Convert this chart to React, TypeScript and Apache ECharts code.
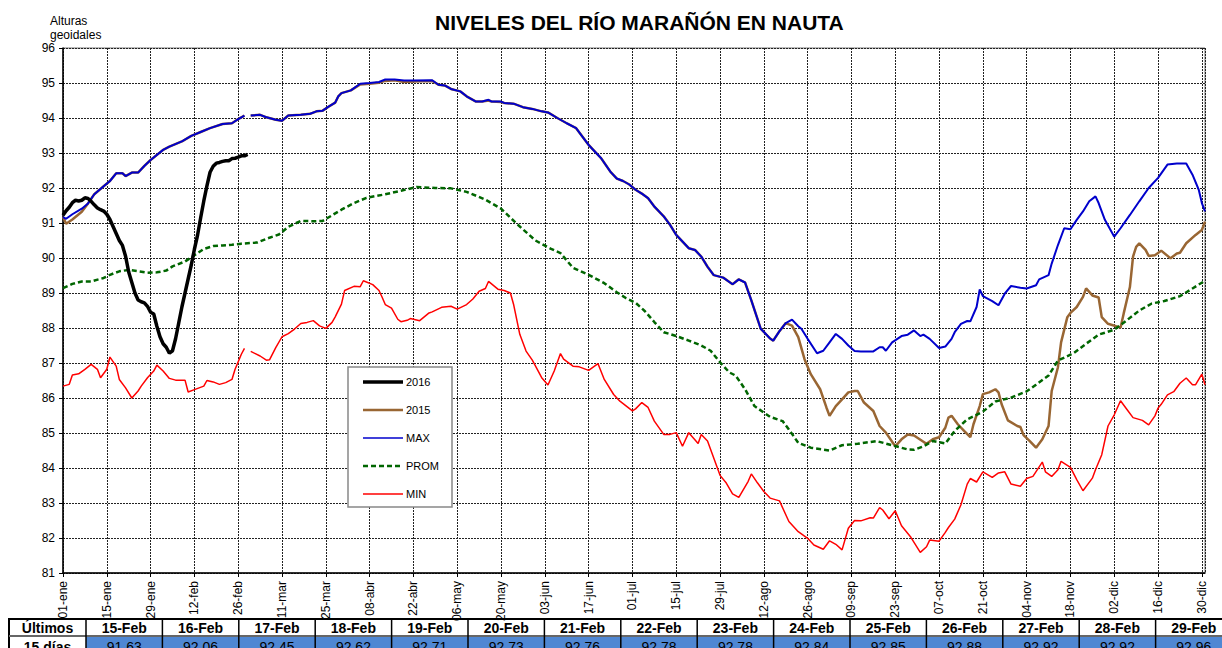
import React, { useEffect, useRef } from "react";
import * as echarts from "echarts";

const FONT = "'Liberation Sans', Arial, sans-serif";

const xTickLabels = [
  "01-ene", "15-ene", "29-ene", "12-feb", "26-feb", "11-mar", "25-mar", "08-abr", "22-abr",
  "06-may", "20-may", "03-jun", "17-jun", "01-jul", "15-jul", "29-jul", "12-ago", "26-ago",
  "09-sep", "23-sep", "07-oct", "21-oct", "04-nov", "18-nov", "02-dic", "16-dic", "30-dic",
];

// [day of year (0 = 01-ene), level]
const data2016Early: [number, number][] = [
  [0, 91.22], [1, 91.35], [2, 91.45], [3, 91.58], [4, 91.65], [5, 91.63], [6, 91.65], [7, 91.72],
  [8, 91.7], [9, 91.62], [10, 91.52], [11, 91.43], [12, 91.38], [13, 91.34], [14, 91.25], [15, 91.1],
  [16, 90.9], [17, 90.7], [18, 90.5], [19, 90.36], [20, 90.05], [21, 89.6], [22, 89.3], [23, 89.0],
  [24, 88.8], [25, 88.75], [26, 88.72], [27, 88.62], [28, 88.45], [29, 88.4], [30, 88.05], [31, 87.75],
  [32, 87.55], [33, 87.45], [34, 87.28], [35, 87.35], [36, 87.7], [37, 88.15], [38, 88.6], [39, 89.0],
  [40, 89.4], [41, 89.8], [42, 90.25], [43, 90.65], [44, 91.15],
];

// last 15 days (table)
const tableDays = [45, 46, 47, 48, 49, 50, 51, 52, 53, 54, 55, 56, 57, 58, 59];
const tableDates = [
  "15-Feb", "16-Feb", "17-Feb", "18-Feb", "19-Feb", "20-Feb", "21-Feb", "22-Feb",
  "23-Feb", "24-Feb", "25-Feb", "26-Feb", "27-Feb", "28-Feb", "29-Feb",
];
const tableValues = [
  91.63, 92.06, 92.45, 92.62, 92.71, 92.73, 92.76, 92.78, 92.78, 92.84, 92.85, 92.88, 92.92, 92.92, 92.96,
];

const dataMax: [number, number | null][] = [
  [0, 91.17], [1, 91.12], [3, 91.25], [6, 91.41], [8, 91.56], [10, 91.82], [13, 92.05], [15, 92.2],
  [17, 92.42], [19, 92.42], [20, 92.34], [22, 92.44], [24, 92.44], [26, 92.63], [28, 92.8], [32, 93.09],
  [34, 93.18], [38, 93.33], [41, 93.49], [44, 93.6], [47, 93.71], [51, 93.83], [54, 93.85], [56, 93.97],
  [58, 94.07], [59, null], [60, 94.07], [63, 94.09], [65, 94.02], [68, 93.95], [70, 93.92], [72, 94.07],
  [76, 94.09], [79, 94.12], [81, 94.19], [83, 94.21], [85, 94.33], [87, 94.44], [88, 94.62], [89, 94.71],
  [92, 94.79], [95, 94.98], [98, 95.0], [101, 95.03], [103, 95.1], [106, 95.1], [109, 95.07], [112, 95.07],
  [118, 95.08], [120, 94.95], [122, 94.93], [124, 94.83], [127, 94.76], [129, 94.62], [132, 94.47],
  [134, 94.47], [136, 94.52], [137, 94.47], [140, 94.47], [141, 94.43], [144, 94.41], [147, 94.31],
  [150, 94.26], [153, 94.19], [155, 94.16], [158, 94.0], [161, 93.85], [164, 93.71], [166, 93.47],
  [168, 93.23], [172, 92.85], [175, 92.46], [177, 92.27], [179, 92.2], [181, 92.1], [183, 91.95],
  [185, 91.84], [187, 91.71], [189, 91.47], [192, 91.19], [194, 90.95], [196, 90.66], [198, 90.47],
  [200, 90.28], [202, 90.23], [204, 90.04], [206, 89.75], [208, 89.51], [211, 89.44], [214, 89.25],
  [216, 89.39], [218, 89.3], [220, 88.79], [223, 87.98], [226, 87.7], [227, 87.64], [229, 87.91],
  [231, 88.14], [233, 88.24], [235, 88.05], [236, 87.98], [238, 87.69], [241, 87.28], [243, 87.35],
  [245, 87.59], [247, 87.83], [249, 87.69], [251, 87.5], [253, 87.34], [255, 87.33], [259, 87.33],
  [261, 87.45], [262, 87.45], [263, 87.35], [265, 87.59], [268, 87.77], [270, 87.81], [272, 87.93],
  [274, 87.77], [275, 87.81], [277, 87.69], [280, 87.43], [282, 87.47], [284, 87.69], [285, 87.88],
  [287, 88.12], [289, 88.2], [290, 88.19], [292, 88.6], [293, 89.1], [294, 88.91], [297, 88.77],
  [299, 88.65], [301, 88.98], [303, 89.2], [306, 89.15], [308, 89.13], [311, 89.22], [312, 89.39],
  [315, 89.51], [316, 89.84], [318, 90.37], [320, 90.85], [322, 90.82], [324, 91.09], [326, 91.33],
  [328, 91.62], [330, 91.76], [331, 91.57], [333, 91.09], [336, 90.61], [338, 90.85], [341, 91.23],
  [344, 91.62], [347, 92.0], [350, 92.29], [353, 92.67], [356, 92.7], [359, 92.7], [361, 92.38],
  [363, 91.95], [364, 91.57], [365, 91.33],
];

const data2015: [number, number | null][] = [
  [0, 91.17], [1, 90.98], [3, 91.1], [6, 91.32], [8, 91.56], [10, 91.82], [13, 92.05], [15, 92.2],
  [17, 92.42], [19, 92.42], [20, 92.34], [22, 92.44], [24, 92.44], [26, 92.63], [28, 92.8], [32, 93.09],
  [34, 93.18], [38, 93.33], [41, 93.49], [44, 93.6], [47, 93.71], [51, 93.83], [54, 93.85], [56, 93.97],
  [58, 94.07], [59, null], [60, 94.07], [63, 94.09], [65, 94.02], [68, 93.95], [70, 93.92], [72, 94.07],
  [76, 94.09], [79, 94.12], [81, 94.19], [83, 94.21], [85, 94.33], [87, 94.44], [88, 94.62], [89, 94.71],
  [92, 94.79], [95, 94.96], [98, 94.98], [101, 95.01], [103, 95.06], [106, 95.08], [109, 95.03],
  [112, 95.04], [118, 95.06], [120, 94.95], [122, 94.93], [124, 94.83], [127, 94.76], [129, 94.62],
  [132, 94.47], [134, 94.47], [136, 94.5], [137, 94.47], [140, 94.46], [141, 94.43], [144, 94.41],
  [147, 94.31], [150, 94.26], [153, 94.19], [155, 94.16], [158, 94.0], [161, 93.85], [164, 93.71],
  [166, 93.47], [168, 93.23], [172, 92.85], [175, 92.46], [177, 92.27], [179, 92.2], [181, 92.1],
  [183, 91.95], [185, 91.84], [187, 91.71], [189, 91.47], [192, 91.19], [194, 90.95], [196, 90.66],
  [198, 90.47], [200, 90.28], [202, 90.23], [204, 90.04], [206, 89.75], [208, 89.51], [211, 89.44],
  [214, 89.25], [216, 89.39], [218, 89.3], [220, 88.79], [223, 87.98], [226, 87.7], [227, 87.64],
  [229, 87.91], [231, 88.14], [233, 88.07], [235, 87.74], [237, 87.11], [239, 86.68], [242, 86.25],
  [244, 85.73], [245, 85.49], [247, 85.77], [249, 85.96], [251, 86.16], [253, 86.2], [254, 86.2],
  [256, 85.87], [259, 85.63], [261, 85.2], [263, 85.01], [266, 84.62], [268, 84.82], [270, 84.96],
  [272, 84.93], [275, 84.75], [276, 84.69], [278, 84.82], [280, 84.88], [282, 85.15], [283, 85.44],
  [284, 85.49], [286, 85.25], [288, 85.06], [290, 84.88], [291, 85.25], [293, 85.77], [294, 86.11],
  [296, 86.16], [298, 86.25], [299, 86.16], [300, 85.82], [302, 85.36], [305, 85.2], [306, 85.17],
  [307, 84.94], [309, 84.77], [311, 84.58], [313, 84.82], [315, 85.2], [316, 86.2], [318, 86.88],
  [319, 87.59], [321, 88.31], [322, 88.43], [324, 88.6], [326, 88.89], [327, 89.13], [329, 88.93],
  [331, 88.87], [332, 88.31], [334, 88.12], [338, 88.01], [339, 88.41], [341, 89.17], [342, 90.04],
  [343, 90.32], [344, 90.42], [346, 90.23], [347, 90.06], [349, 90.08], [351, 90.21], [354, 89.99],
  [356, 90.13], [357, 90.15], [359, 90.42], [362, 90.66], [364, 90.8], [365, 91.04],
];

const dataProm: [number, number][] = [
  [0, 89.14], [3, 89.26], [6, 89.33], [9, 89.33], [13, 89.43], [15, 89.52], [18, 89.62], [21, 89.66],
  [24, 89.62], [27, 89.58], [30, 89.59], [33, 89.64], [35, 89.76], [39, 89.9], [41, 90.02], [45, 90.26],
  [48, 90.34], [51, 90.36], [54, 90.38], [57, 90.41], [62, 90.44], [66, 90.58], [69, 90.67], [72, 90.89],
  [76, 91.06], [80, 91.05], [83, 91.06], [86, 91.22], [89, 91.38], [93, 91.57], [97, 91.72], [103, 91.82],
  [108, 91.92], [113, 92.03], [119, 92.0], [124, 91.99], [129, 91.89], [135, 91.67], [140, 91.41],
  [145, 90.98], [151, 90.5], [156, 90.26], [159, 90.14], [163, 89.72], [168, 89.52], [173, 89.28],
  [177, 89.02], [180, 88.85], [183, 88.72], [186, 88.48], [189, 88.17], [192, 87.88], [196, 87.77],
  [200, 87.64], [204, 87.5], [207, 87.35], [210, 87.02], [213, 86.73], [215, 86.64], [218, 86.25],
  [221, 85.77], [226, 85.46], [230, 85.34], [232, 85.1], [235, 84.72], [239, 84.58], [245, 84.5],
  [249, 84.65], [254, 84.69], [260, 84.77], [265, 84.65], [270, 84.53], [272, 84.52], [275, 84.62],
  [278, 84.77], [282, 84.7], [285, 85.06], [289, 85.39], [294, 85.61], [298, 85.9], [303, 86.01],
  [308, 86.19], [311, 86.38], [315, 86.64], [318, 87.07], [323, 87.28], [327, 87.55], [331, 87.81],
  [336, 87.95], [340, 88.22], [344, 88.5], [348, 88.7], [352, 88.77], [357, 88.91], [361, 89.13],
  [365, 89.35],
];

const dataMin: [number, number | null][] = [
  [0, 86.34], [2, 86.39], [3, 86.66], [5, 86.69], [7, 86.82], [9, 86.96], [11, 86.82], [12, 86.58],
  [14, 86.82], [15, 87.17], [17, 86.91], [18, 86.53], [20, 86.29], [22, 86.0], [24, 86.2], [25, 86.34],
  [27, 86.58], [29, 86.77], [30, 86.94], [32, 86.77], [34, 86.56], [36, 86.51], [39, 86.51], [40, 86.17],
  [42, 86.24], [45, 86.34], [46, 86.5], [48, 86.46], [50, 86.39], [52, 86.44], [54, 86.53], [55, 86.82],
  [57, 87.25], [58, 87.42], [59, null], [60, 87.33], [63, 87.2], [65, 87.08], [66, 87.09], [68, 87.44],
  [70, 87.75], [72, 87.84], [74, 87.97], [76, 88.13], [78, 88.16], [80, 88.21], [82, 88.06], [84, 87.99],
  [86, 88.16], [87, 88.32], [89, 88.68], [90, 89.07], [93, 89.19], [95, 89.18], [96, 89.35], [99, 89.24],
  [101, 89.07], [102, 88.88], [103, 88.67], [105, 88.57], [107, 88.25], [108, 88.18], [110, 88.22],
  [111, 88.27], [114, 88.21], [117, 88.43], [118, 88.46], [121, 88.59], [124, 88.62], [126, 88.54],
  [129, 88.67], [131, 88.83], [133, 89.05], [135, 89.13], [136, 89.33], [139, 89.11], [141, 89.07],
  [143, 89.0], [144, 88.68], [146, 87.82], [148, 87.34], [150, 87.08], [153, 86.58], [155, 86.37],
  [157, 86.77], [159, 87.27], [160, 87.11], [163, 86.91], [165, 86.89], [168, 86.79], [171, 86.98],
  [173, 86.53], [176, 86.1], [178, 85.91], [182, 85.63], [183, 85.69], [185, 85.87], [187, 85.73],
  [189, 85.34], [192, 84.96], [194, 84.96], [196, 85.01], [198, 84.62], [200, 85.01], [203, 84.7],
  [204, 84.96], [206, 84.77], [210, 83.79], [212, 83.57], [214, 83.26], [216, 83.16], [219, 83.62],
  [220, 83.83], [222, 83.57], [224, 83.33], [226, 83.14], [229, 83.06], [232, 82.47], [235, 82.18],
  [238, 81.99], [240, 81.8], [243, 81.68], [245, 81.92], [247, 81.82], [249, 81.66], [251, 82.28],
  [253, 82.5], [255, 82.49], [258, 82.58], [259, 82.57], [261, 82.87], [262, 82.8], [264, 82.55],
  [266, 82.78], [268, 82.35], [271, 82.02], [274, 81.59], [276, 81.75], [277, 81.94], [280, 81.91],
  [282, 82.16], [283, 82.3], [285, 82.54], [287, 82.95], [289, 83.54], [290, 83.7], [292, 83.6],
  [294, 83.89], [297, 83.73], [299, 83.86], [301, 83.89], [303, 83.54], [306, 83.48], [308, 83.7],
  [310, 83.76], [313, 84.17], [314, 83.89], [316, 83.76], [318, 83.95], [319, 84.19], [322, 84.02],
  [324, 83.67], [326, 83.35], [329, 83.71], [330, 83.95], [332, 84.38], [334, 85.2], [336, 85.52],
  [338, 85.92], [340, 85.68], [342, 85.44], [345, 85.36], [347, 85.23], [349, 85.49], [350, 85.71],
  [351, 85.82], [353, 86.09], [355, 86.18], [357, 86.42], [359, 86.57], [361, 86.38], [362, 86.38],
  [364, 86.68], [365, 86.38],
];

const legendItems = [
  { name: "2016", color: "#000000", width: 3.5, dash: null as number[] | null },
  { name: "2015", color: "#996633", width: 2.5, dash: null },
  { name: "MAX", color: "#0000CC", width: 1.5, dash: null },
  { name: "PROM", color: "#006600", width: 2.5, dash: [5, 3] },
  { name: "MIN", color: "#FF0000", width: 1.5, dash: null },
];

function buildTable(): any[] {
  const els: any[] = [];
  const left = 9;
  const firstW = 77;
  const colW = 76.4;
  const top = 619;
  const rowH = 17;
  const x0 = left + firstW;
  els.push({
    type: "rect",
    shape: { x: x0, y: top + rowH, width: 1300, height: 30 },
    style: { fill: "#4F87D3" },
    silent: true,
  });
  els.push({
    type: "rect",
    shape: { x: left, y: top, width: 1300, height: 50 },
    style: { fill: "none", stroke: "#000", lineWidth: 2 },
    silent: true,
  });
  els.push({
    type: "line",
    shape: { x1: left, y1: top + rowH, x2: 1300, y2: top + rowH },
    style: { stroke: "#666", lineWidth: 2 },
    silent: true,
  });
  for (let k = 0; k <= tableDates.length; k++) {
    const x = x0 + k * colW;
    els.push({
      type: "line",
      shape: { x1: x, y1: top, x2: x, y2: 660 },
      style: { stroke: "#000", lineWidth: 1.5 },
      silent: true,
    });
  }
  const txt = (x: number, y: number, t: string, bold: boolean) => ({
    type: "text",
    x,
    y,
    silent: true,
    style: {
      text: t,
      fill: "#000",
      fontSize: 14,
      fontWeight: bold ? "bold" : "normal",
      fontFamily: FONT,
      align: "center",
      verticalAlign: "middle",
      textAlign: "center",
      textVerticalAlign: "middle",
    },
  });
  els.push(txt(left + firstW / 2, top + rowH / 2 + 0.5, "Últimos", true));
  els.push(txt(left + firstW / 2, top + rowH + 11, "15 días", true));
  tableDates.forEach((d, i) => {
    const cx = x0 + i * colW + colW / 2;
    els.push(txt(cx, top + rowH / 2 + 0.5, d, true));
    els.push(txt(cx, top + rowH + 11, tableValues[i].toFixed(2), false));
  });
  return els;
}

function buildLegend(): any[] {
  const els: any[] = [];
  els.push({
    type: "rect",
    shape: { x: 348, y: 367, width: 104, height: 140 },
    style: { fill: "#fff", stroke: "#888", lineWidth: 1.5 },
    z: 10,
    silent: true,
  });
  legendItems.forEach((it, i) => {
    const y = 382 + i * 28;
    els.push({
      type: "line",
      shape: { x1: 363, y1: y, x2: 403, y2: y },
      style: { stroke: it.color, lineWidth: it.width, lineDash: it.dash || undefined },
      z: 11,
      silent: true,
    });
    els.push({
      type: "text",
      x: 406,
      y,
      z: 11,
      silent: true,
      style: {
        text: it.name,
        fill: "#000",
        fontSize: 11,
        fontFamily: FONT,
        align: "left",
        verticalAlign: "middle",
        textAlign: "left",
        textVerticalAlign: "middle",
      },
    });
  });
  return els;
}

export default function App() {
  const ref = useRef<HTMLDivElement>(null);
  useEffect(() => {
    if (!ref.current) return;
    const chart = echarts.init(ref.current, undefined, { renderer: "svg" });
    const data2016 = [
      ...data2016Early,
      ...tableDays.map((d, i) => [d, tableValues[i]]),
    ];
    const gridLine = { show: true, lineStyle: { color: "#222", width: 1, type: [2, 1] } };
    chart.setOption({
      animation: false,
      backgroundColor: "#fff",
      textStyle: { fontFamily: FONT },
      title: {
        text: "NIVELES DEL RÍO MARAÑÓN EN NAUTA",
        left: 430,
        top: 7,
        textStyle: { fontSize: 21, fontWeight: "bold", color: "#000", fontFamily: FONT },
      },
      grid: {
        left: 63,
        right: 17,
        top: 48,
        bottom: 75,
        show: true,
        borderColor: "#777",
        borderWidth: 1,
        backgroundColor: "transparent",
      },
      xAxis: {
        type: "value",
        min: 0,
        max: 365,
        interval: 14,
        axisLine: { show: true, onZero: false, lineStyle: { color: "#000", width: 1.5 } },
        axisTick: { show: true, length: 4, lineStyle: { color: "#000" } },
        axisLabel: {
          rotate: 90,
          margin: 8,
          fontSize: 12,
          color: "#000",
          fontFamily: FONT,
          showMaxLabel: false,
          formatter: (v: number) => {
            const idx = Math.round(v / 14);
            return v % 14 === 0 && xTickLabels[idx] ? xTickLabels[idx] : "";
          },
        },
        splitLine: gridLine,
      },
      yAxis: {
        type: "value",
        min: 81,
        max: 96,
        interval: 1,
        axisLine: { show: true, lineStyle: { color: "#000", width: 1.5 } },
        axisTick: { show: true, length: 4, lineStyle: { color: "#000" } },
        axisLabel: { margin: 8, fontSize: 12, color: "#000", fontFamily: FONT },
        splitLine: gridLine,
      },
      series: [
        {
          type: "line",
          name: "2015",
          data: data2015,
          symbol: "none",
          connectNulls: false,
          lineStyle: { color: "#996633", width: 2.5 },
          itemStyle: { color: "#996633" },
          z: 2,
        },
        {
          type: "line",
          name: "MAX",
          data: dataMax,
          symbol: "none",
          connectNulls: false,
          lineStyle: { color: "#0000CC", width: 2 },
          itemStyle: { color: "#0000CC" },
          z: 3,
        },
        {
          type: "line",
          name: "PROM",
          data: dataProm,
          symbol: "none",
          lineStyle: { color: "#006600", width: 2.5, type: [5, 3] },
          itemStyle: { color: "#006600" },
          z: 3,
        },
        {
          type: "line",
          name: "MIN",
          data: dataMin,
          symbol: "none",
          connectNulls: false,
          lineStyle: { color: "#FF0000", width: 1.5 },
          itemStyle: { color: "#FF0000" },
          z: 3,
        },
        {
          type: "line",
          name: "2016",
          data: data2016,
          symbol: "none",
          lineStyle: { color: "#000000", width: 3.5 },
          itemStyle: { color: "#000000" },
          z: 4,
        },
      ],
      graphic: [
        {
          type: "text",
          x: 50,
          y: 14,
          silent: true,
          style: {
            text: "Alturas\ngeoidales",
            fill: "#000",
            fontSize: 12,
            lineHeight: 14,
            fontFamily: FONT,
          },
        },
        ...buildLegend(),
        ...buildTable(),
      ],
    });
    return () => chart.dispose();
  }, []);
  return (
    <div
      ref={ref}
      style={{ position: "fixed", left: 0, top: 0, width: 1222, height: 648, background: "#fff" }}
    />
  );
}
